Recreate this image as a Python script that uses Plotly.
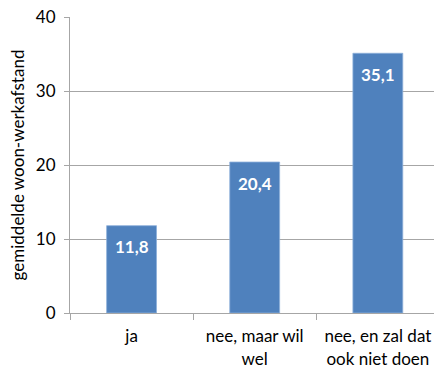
import plotly.graph_objects as go

categories = ["ja", "nee, maar wil<br>wel", "nee, en zal dat<br>ook niet doen"]
values = [11.8, 20.4, 35.1]
y_ticks = [0, 10, 20, 30, 40]

bar_color = "#4F81BD"
grid_color = "#A6A6A6"
font_family = "Lato, 'Open Sans', sans-serif"

fig = go.Figure()
fig.add_trace(go.Bar(
    x=categories,
    y=values,
    width=0.405,
    marker=dict(color=bar_color, line=dict(color="#8DB0DB", width=0.8)),
    hoverinfo="skip",
))

# value labels inside the top of each bar
for cat, val in zip(categories, values):
    fig.add_annotation(
        x=cat, y=val, text=f"<b>{val:.1f}</b>".replace(".", ","),
        showarrow=False, yanchor="middle", yshift=-21,
        font=dict(family=font_family, size=17, color="white"),
    )

fig.update_layout(
    width=434, height=369,
    margin=dict(l=70, r=0, t=17, b=56),
    paper_bgcolor="white", plot_bgcolor="white",
    showlegend=False,
    separators=",.",
    font=dict(family=font_family, color="#000000"),
)

fig.update_xaxes(
    type="category",
    range=[-0.5, 2.456],
    showline=True, linecolor=grid_color, linewidth=1,
    ticks="outside", tickson="boundaries", ticklen=6, tickcolor=grid_color,
    tickfont=dict(size=17, family=font_family),
    ticklabelstandoff=8,
    showgrid=False,
)
fig.update_yaxes(
    range=[0, 40],
    tickvals=y_ticks,
    showline=True, linecolor=grid_color, linewidth=1,
    ticks="outside", ticklen=5, tickcolor=grid_color,
    showgrid=True, gridcolor=grid_color, gridwidth=1,
    zeroline=False,
    tickfont=dict(size=17, family=font_family),
    ticklabelstandoff=5,
    title=dict(text="gemiddelde woon-werkafstand", font=dict(size=17, family=font_family), standoff=6),
)

fig.write_html("out.html")
